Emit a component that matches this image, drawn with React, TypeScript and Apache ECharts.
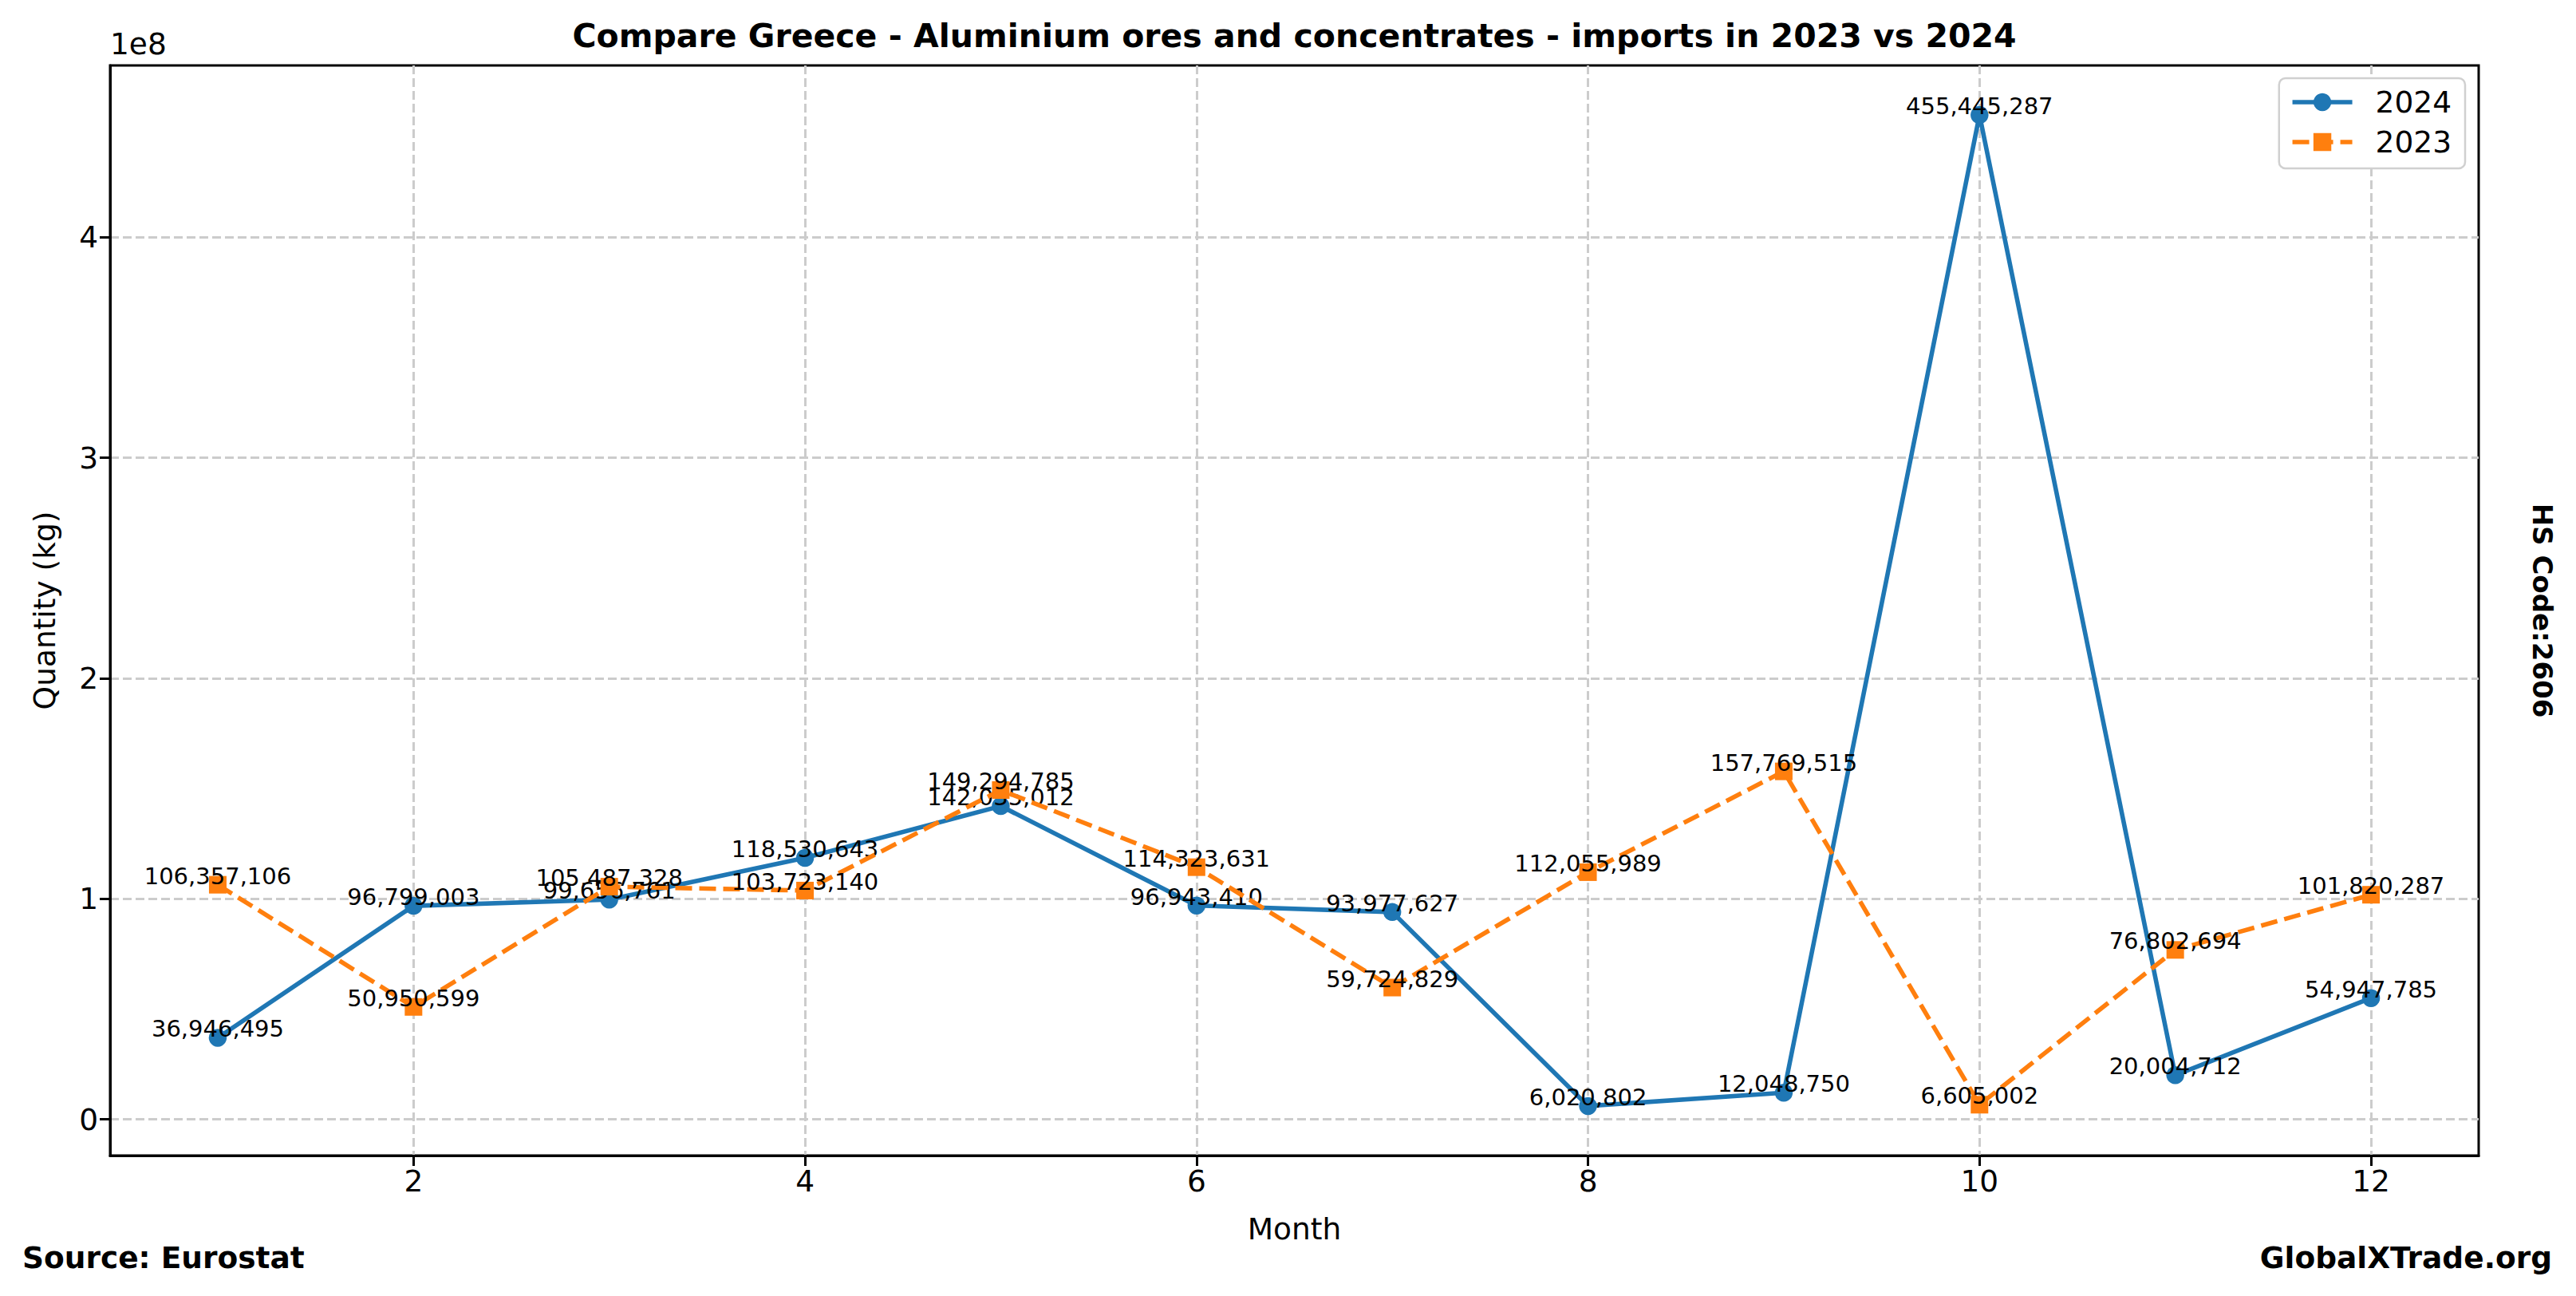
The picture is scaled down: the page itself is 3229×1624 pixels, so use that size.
import React, { useEffect, useRef } from "react";
import * as echarts from "echarts";

const months = [1, 2, 3, 4, 5, 6, 7, 8, 9, 10, 11, 12];
const values2024 = [36946495, 96799003, 99656761, 118530643, 142035012, 96943410, 93977627, 6020802, 12048750, 455445287, 20004712, 54947785];
const values2023 = [106357106, 50950599, 105487328, 103723140, 149294785, 114323631, 59724829, 112055989, 157769515, 6605002, 76802694, 101820287];
const xTicks = [2, 4, 6, 8, 10, 12];
const yTicks = [0, 100000000, 200000000, 300000000, 400000000];
const seriesNames = ["2024", "2023"];

const W = 3229;
const H = 1624;
const FONT = "DejaVu Sans";

export default function App() {
  const ref = useRef<HTMLDivElement>(null);
  useEffect(() => {
    document.body.style.margin = "0";
    document.body.style.overflow = "hidden";
    const chart = echarts.init(ref.current!, null, { renderer: "svg" });
    const all = values2024.concat(values2023);
    const dMin = Math.min(...all);
    const dMax = Math.max(...all);
    const pad = (dMax - dMin) * 0.05;
    const xPad = (months[months.length - 1] - months[0]) * 0.05;
    const gridL = 138, gridR = 122, gridT = 82, gridB = 176;
    const plotCx = gridL + (W - gridL - gridR) / 2;
    const plotCy = gridT + (H - gridT - gridB) / 2;
    const labelCfg = {
      show: true,
      position: "inside",
      offset: [0, -11],
      fontSize: 29,
      fontFamily: FONT,
      color: "#000",
      formatter: (p: any) => Number(p.value[1]).toLocaleString("en-US"),
    };
    const gridLine = { show: true, lineStyle: { color: "#cccccc", width: 3, type: [11, 5] } };
    chart.setOption({
      animation: false,
      backgroundColor: "#fff",
      textStyle: { fontFamily: FONT },
      grid: {
        left: gridL, right: gridR, top: gridT, bottom: gridB,
        show: true, borderColor: "#000", borderWidth: 3, backgroundColor: "transparent",
      },
      legend: {
        data: seriesNames,
        orient: "vertical",
        right: 139,
        top: 98,
        backgroundColor: "#fff",
        borderColor: "#d0d0d0",
        borderWidth: 2.5,
        borderRadius: 8,
        padding: [11, 17, 14, 14],
        itemGap: 12,
        itemWidth: 75,
        itemHeight: 28,
        lineStyle: { width: 5.6 },
        textStyle: { fontSize: 37.5, fontFamily: FONT, color: "#000", padding: [0, 0, 0, 24] },
      },
      xAxis: {
        type: "value",
        min: months[0] - xPad,
        max: months[months.length - 1] + xPad,
        axisLine: { show: true, onZero: false, lineStyle: { color: "#000", width: 3 } },
        axisTick: { show: true, inside: false, length: 13, lineStyle: { color: "#000", width: 3 }, customValues: xTicks },
        axisLabel: { show: true, margin: 13, fontSize: 37.5, fontFamily: FONT, color: "#000", customValues: xTicks, formatter: (v: number) => String(v) },
        splitLine: gridLine,
      },
      yAxis: {
        type: "value",
        min: dMin - pad,
        max: dMax + pad,
        axisLine: { show: true, onZero: false, lineStyle: { color: "#000", width: 3 } },
        axisTick: { show: true, inside: false, length: 13, lineStyle: { color: "#000", width: 3 }, customValues: yTicks },
        axisLabel: { show: true, margin: 15, fontSize: 37.5, fontFamily: FONT, color: "#000", customValues: yTicks, formatter: (v: number) => String(Math.round(v / 1e8)) },
        splitLine: gridLine,
      },
      series: [
        {
          name: seriesNames[0],
          type: "line",
          data: months.map((m, i) => [m, values2024[i]]),
          symbol: "circle",
          symbolSize: 22.5,
          lineStyle: { color: "#1f77b4", width: 5.6 },
          itemStyle: { color: "#1f77b4" },
          label: labelCfg,
          z: 3,
        },
        {
          name: seriesNames[1],
          type: "line",
          data: months.map((m, i) => [m, values2023[i]]),
          symbol: "rect",
          symbolSize: 22,
          lineStyle: { color: "#ff7f0e", width: 5.6, type: [21, 9] },
          itemStyle: { color: "#ff7f0e" },
          label: labelCfg,
          z: 4,
        },
      ],
      graphic: [
        { type: "text", x: plotCx, y: 45, style: { text: "Compare Greece - Aluminium ores and concentrates - imports in 2023 vs 2024", font: `bold 41px '${FONT}'`, fill: "#000", textAlign: "center", textVerticalAlign: "middle" } },
        { type: "text", x: gridL, y: 55, style: { text: "1e8", font: `37.5px '${FONT}'`, fill: "#000", textAlign: "left", textVerticalAlign: "middle" } },
        { type: "text", x: 56, y: plotCy, rotation: Math.PI / 2, style: { text: "Quantity (kg)", font: `37.5px '${FONT}'`, fill: "#000", textAlign: "center", textVerticalAlign: "middle" } },
        { type: "text", x: plotCx, y: 1540, style: { text: "Month", font: `37.5px '${FONT}'`, fill: "#000", textAlign: "center", textVerticalAlign: "middle" } },
        { type: "text", x: 28, y: 1576, style: { text: "Source: Eurostat", font: `bold 37.5px '${FONT}'`, fill: "#000", textAlign: "left", textVerticalAlign: "middle" } },
        { type: "text", x: 3199, y: 1576, style: { text: "GlobalXTrade.org", font: `bold 37.5px '${FONT}'`, fill: "#000", textAlign: "right", textVerticalAlign: "middle" } },
        { type: "text", x: 3187, y: plotCy, rotation: -Math.PI / 2, style: { text: "HS Code:2606", font: `bold 34px '${FONT}'`, fill: "#000", textAlign: "center", textVerticalAlign: "middle" } },
      ],
    });
    return () => chart.dispose();
  }, []);
  return <div ref={ref} style={{ width: W, height: H }} />;
}
